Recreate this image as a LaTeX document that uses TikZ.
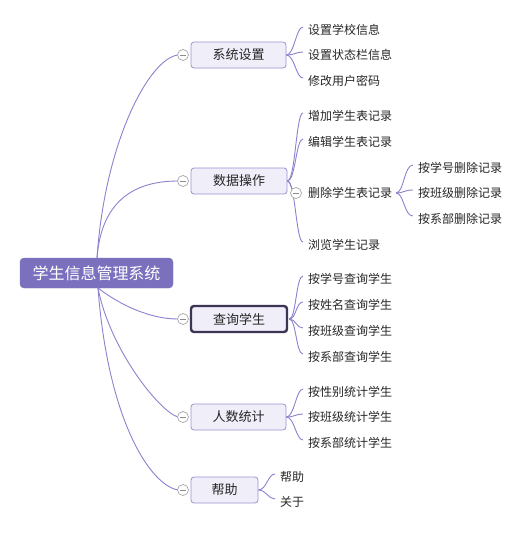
\documentclass[tikz,border=0pt]{standalone}
\usepackage{fontspec}
\newfontfamily\cjk{Noto Sans CJK SC}
\definecolor{linec}{HTML}{8C82CE}
\definecolor{rootc}{HTML}{7B70BE}
\definecolor{boxfill}{HTML}{EFEEF9}
\definecolor{boxline}{HTML}{9B92D2}
\definecolor{selc}{HTML}{3D3553}
\tikzset{
  conn/.style={draw=linec, line width=0.9pt},
  rootbox/.style={rounded corners=4pt, fill=rootc, draw=rootc, text=white, minimum width=153pt, minimum height=30pt, inner sep=0pt, font=\cjk\fontsize{16}{16}\selectfont},
  topicbox/.style={rounded corners=3pt, fill=boxfill, draw=boxline, line width=0.8pt, minimum height=26pt, inner sep=0pt, text=black!85, font=\cjk\fontsize{13}{13}\selectfont},
  selbox/.style={topicbox, draw=selc, line width=2.4pt},
  leaf/.style={anchor=west, inner sep=0pt, text=black!85, font=\cjk\fontsize{12}{12}\selectfont},
  knob/.style={circle, draw=black!35, fill=white, line width=0.7pt, minimum size=11pt, inner sep=0pt, path picture={\draw[black!45, line width=0.8pt] ([xshift=-3pt]path picture bounding box.center) -- ([xshift=3pt]path picture bounding box.center);}}
}
\begin{document}
\begin{tikzpicture}[x=1pt, y=-1pt]
\useasboundingbox (0,0) rectangle (527,533);
\fill[white] (0,0) rectangle (527,533);

% root
\node[rootbox] (root) at (96.5,273) {学生信息管理系统};

% level 1
\node[topicbox, minimum width=95pt] (sys) at (238.5,55) {系统设置};
\node[topicbox, minimum width=96pt] (data) at (239,181) {数据操作};
\node[selbox, minimum width=96pt] (query) at (239,319) {查询学生};
\node[topicbox, minimum width=95pt] (count) at (238.5,417) {人数统计};
\node[topicbox, minimum width=67pt] (help) at (224.5,490) {帮助};

% root connectors
\coordinate (rt) at (97,258);
\coordinate (rb) at (98,288);
\draw[conn] (rt) .. controls (105,140) and (150,58) .. (178,55);
\draw[conn] (rt) .. controls (101,205) and (130,181) .. (178,181);
\draw[conn] (rb) .. controls (120,305) and (150,319) .. (178,319);
\draw[conn] (rb) .. controls (110,350) and (160,412) .. (178,417);
\draw[conn] (rb) .. controls (108,420) and (150,485) .. (178,490);

\node[knob] (k1) at (183,55) {};
\node[knob] (k2) at (183,181) {};
\node[knob] (k3) at (183,319) {};
\node[knob] (k4) at (183,417) {};
\node[knob] (k5) at (183,490) {};

% leaves of 系统设置
\node[leaf] (s1) at (308,30) {设置学校信息};
\node[leaf] (s2) at (308,55) {设置状态栏信息};
\node[leaf] (s3) at (308,81) {修改用户密码};
\foreach \n in {s1,s2,s3}{
  \draw[conn] (sys.east) .. controls ([xshift=8pt]sys.east) and ([xshift=-12pt,yshift=3pt]\n.west) .. ([xshift=-5pt,yshift=3pt]\n.west);
}

% leaves of 数据操作
\node[leaf] (d1) at (308,116) {增加学生表记录};
\node[leaf] (d2) at (308,142) {编辑学生表记录};
\node[leaf] (d3) at (308,193) {删除学生表记录};
\node[leaf] (d4) at (308,245) {浏览学生记录};
\foreach \n in {d1,d2,d4}{
  \draw[conn] (data.east) .. controls ([xshift=8pt]data.east) and ([xshift=-12pt,yshift=3pt]\n.west) .. ([xshift=-5pt,yshift=3pt]\n.west);
}
\draw[conn] (data.east) .. controls ([xshift=4pt]data.east) and (291,193) .. (296,193);
\node[knob] (k6) at (296,193) {};

% grandchildren
\node[leaf] (g1) at (418,168) {按学号删除记录};
\node[leaf] (g2) at (418,193) {按班级删除记录};
\node[leaf] (g3) at (418,219) {按系部删除记录};
\coordinate (d3e) at (396,193);
\foreach \n in {g1,g2,g3}{
  \draw[conn] (d3e) .. controls (404,193) and ([xshift=-14pt,yshift=3pt]\n.west) .. ([xshift=-5pt,yshift=3pt]\n.west);
}

% leaves of 查询学生
\node[leaf] (q1) at (308,279) {按学号查询学生};
\node[leaf] (q2) at (308,305) {按姓名查询学生};
\node[leaf] (q3) at (308,331) {按班级查询学生};
\node[leaf] (q4) at (308,357) {按系部查询学生};
\foreach \n in {q1,q2,q3,q4}{
  \draw[conn] ([xshift=1pt]query.east) .. controls ([xshift=8pt]query.east) and ([xshift=-12pt,yshift=3pt]\n.west) .. ([xshift=-5pt,yshift=3pt]\n.west);
}

% leaves of 人数统计
\node[leaf] (c1) at (308,392) {按性别统计学生};
\node[leaf] (c2) at (308,417) {按班级统计学生};
\node[leaf] (c3) at (308,443) {按系部统计学生};
\foreach \n in {c1,c2,c3}{
  \draw[conn] (count.east) .. controls ([xshift=8pt]count.east) and ([xshift=-12pt,yshift=3pt]\n.west) .. ([xshift=-5pt,yshift=3pt]\n.west);
}

% leaves of 帮助
\node[leaf] (h1) at (280,477) {帮助};
\node[leaf] (h2) at (280,502) {关于};
\foreach \n in {h1,h2}{
  \draw[conn] (help.east) .. controls ([xshift=8pt]help.east) and ([xshift=-12pt,yshift=3pt]\n.west) .. ([xshift=-5pt,yshift=3pt]\n.west);
}
\end{tikzpicture}
\end{document}
